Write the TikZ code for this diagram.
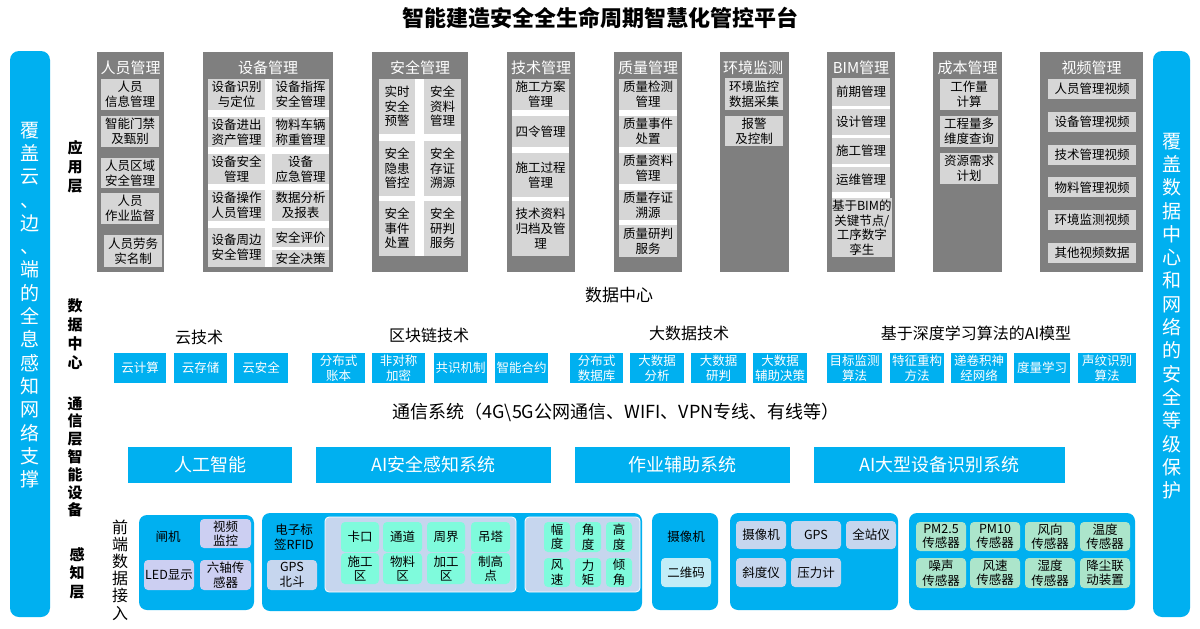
\documentclass[tikz,border=0pt]{standalone}
\usepackage{fontspec}
\setmainfont{Noto Sans CJK SC}
\definecolor{colgray}{HTML}{7F7F7F}
\definecolor{boxgray}{HTML}{D6D6D6}
\definecolor{skyblue}{HTML}{00B0F0}
\definecolor{lavender}{HTML}{CCCFF2}
\definecolor{panelblue}{HTML}{C6D6EE}
\definecolor{aqua}{HTML}{7FFBDC}
\definecolor{mint}{HTML}{ACE5CB}
\definecolor{palecyan}{HTML}{C2EDF7}

\begin{document}
\begin{tikzpicture}[x=1pt,y=-1pt,
    every node/.style={inner sep=0pt,outer sep=0pt},
    colbg/.style={fill=colgray,anchor=north west,minimum height=220},
    gapbg/.style={fill=white,anchor=north west},
    colhead/.style={text=white,font=\fontsize{15}{15}\selectfont},
    appbox/.style={fill=boxgray,anchor=north west,align=center,font=\fontsize{12.5}{15}\selectfont},
    techbox/.style={fill=skyblue,anchor=north west,align=center,text=white,minimum height=30,font=\fontsize{12.5}{15}\selectfont},
    sysbox/.style={fill=skyblue,anchor=north west,text=white,minimum height=36,font=\fontsize{18}{18}\selectfont},
    block/.style={fill=skyblue,rounded corners=8pt,anchor=north west},
    dev/.style={rounded corners=4pt,anchor=north west,align=center,font=\fontsize{12.5}{14.5}\selectfont},
    sidebar/.style={fill=skyblue,rounded corners=9pt,anchor=north west,minimum height=566},
    sidetext/.style={align=center,text=white,font=\fontsize{19}{23.3}\selectfont},
    layer/.style={align=center,font=\bfseries\fontsize{15}{19}\selectfont},
    heading/.style={font=\fontsize{16}{16}\selectfont}]

  \fill[white] (0,0) rectangle (1200,629);
  \useasboundingbox (0,0) rectangle (1200,629);

  % title
  \node[font=\bfseries\fontsize{22}{22}\selectfont] (title) at (600,18) {智能建造安全全生命周期智慧化管控平台};

  % side bars
  \node[sidebar,minimum width=40] (leftbar) at (10,51) {};
  \node[sidetext] (lefttext) at (30,305) {覆\\盖\\云\\、\\边\\、\\端\\的\\全\\息\\感\\知\\网\\络\\支\\撑};
  \node[sidebar,minimum width=37] (rightbar) at (1153,51) {};
  \node[sidetext] (righttext) at (1171.5,316) {覆\\盖\\数\\据\\中\\心\\和\\网\\络\\的\\安\\全\\等\\级\\保\\护};

  % layer labels
  \node[layer] (lyapp) at (75,167) {应\\用\\层};
  \node[layer] (lydata) at (75,334) {数\\据\\中\\心};
  \node[layer,font=\bfseries\fontsize{15}{17.8}\selectfont] (lycomm) at (75,457) {通\\信\\层\\智\\能\\设\\备};
  \node[layer,font=\bfseries\fontsize{15}{18.5}\selectfont] (lysense) at (77,573) {感\\知\\层};
  \node[align=center,font=\fontsize{16}{17.2}\selectfont] (frontend) at (120,570) {前\\端\\数\\据\\接\\入};

  % application layer
  \node[colbg,minimum width=67] (c1) at (97,52) {};
  \node[colhead] (h1) at (130.5,68) {人员管理};
  \node[appbox,minimum width=58,minimum height=31] (c1a) at (101,79) {人员\\信息管理};
  \node[appbox,minimum width=58,minimum height=31] (c1b) at (101,116) {智能门禁\\及甄别};
  \node[appbox,minimum width=58,minimum height=30] (c1c) at (101,158) {人员区域\\安全管理};
  \node[appbox,minimum width=58,minimum height=31] (c1d) at (101,193) {人员\\作业监督};
  \node[appbox,minimum width=58,minimum height=32] (c1e) at (104,235) {人员劳务\\实名制};

  \node[colbg,minimum width=130] (c2) at (203,52) {};
  \node[colhead] (h2) at (268,68) {设备管理};
  \node[gapbg,minimum width=121,minimum height=188] (g2) at (208,79) {};
  \node[appbox,minimum width=57,minimum height=31] (c2a) at (208,79) {设备识别\\与定位};
  \node[appbox,minimum width=57,minimum height=31] (c2b) at (272,79) {设备指挥\\安全管理};
  \node[appbox,minimum width=57,minimum height=30] (c2c) at (208,117) {设备进出\\资产管理};
  \node[appbox,minimum width=57,minimum height=30] (c2d) at (272,117) {物料车辆\\称重管理};
  \node[appbox,minimum width=57,minimum height=30] (c2e) at (208,154) {设备安全\\管理};
  \node[appbox,minimum width=57,minimum height=30] (c2f) at (272,154) {设备\\应急管理};
  \node[appbox,minimum width=57,minimum height=31] (c2g) at (208,190) {设备操作\\人员管理};
  \node[appbox,minimum width=57,minimum height=31] (c2h) at (272,190) {数据分析\\及报表};
  \node[appbox,minimum width=57,minimum height=39] (c2i) at (208,228) {设备周边\\安全管理};
  \node[appbox,minimum width=57,minimum height=19] (c2j) at (272,228) {安全评价};
  \node[appbox,minimum width=57,minimum height=17] (c2k) at (272,250) {安全决策};

  \node[colbg,minimum width=96] (c3) at (372,52) {};
  \node[colhead] (h3) at (420,68) {安全管理};
  \node[gapbg,minimum width=82,minimum height=177] (g3) at (379,79) {};
  \node[appbox,font=\fontsize{12.5}{14.5}\selectfont,minimum width=36,minimum height=55] (c3a) at (379,79) {实时\\安全\\预警};
  \node[appbox,font=\fontsize{12.5}{14.5}\selectfont,minimum width=37,minimum height=55] (c3b) at (424,79) {安全\\资料\\管理};
  \node[appbox,font=\fontsize{12.5}{14.5}\selectfont,minimum width=36,minimum height=55] (c3c) at (379,141) {安全\\隐患\\管控};
  \node[appbox,font=\fontsize{12.5}{14.5}\selectfont,minimum width=37,minimum height=55] (c3d) at (424,141) {安全\\存证\\溯源};
  \node[appbox,font=\fontsize{12.5}{14.5}\selectfont,minimum width=36,minimum height=55] (c3e) at (379,201) {安全\\事件\\处置};
  \node[appbox,font=\fontsize{12.5}{14.5}\selectfont,minimum width=37,minimum height=55] (c3f) at (424,201) {安全\\研判\\服务};

  \node[colbg,minimum width=68] (c4) at (507,52) {};
  \node[colhead] (h4) at (541,68) {技术管理};
  \node[gapbg,minimum width=57,minimum height=177] (g4) at (512,79) {};
  \node[appbox,minimum width=57,minimum height=31] (c4a) at (512,79) {施工方案\\管理};
  \node[appbox,minimum width=57,minimum height=31] (c4b) at (512,116) {四令管理};
  \node[appbox,minimum width=57,minimum height=44] (c4c) at (512,153) {施工过程\\管理};
  \node[appbox,minimum width=57,minimum height=55] (c4d) at (512,201) {技术资料\\归档及管\\理};

  \node[colbg,minimum width=68] (c5) at (614,52) {};
  \node[colhead] (h5) at (648,68) {质量管理};
  \node[gapbg,minimum width=58,minimum height=178] (g5) at (619,79) {};
  \node[appbox,minimum width=58,minimum height=31] (c5a) at (619,79) {质量检测\\管理};
  \node[appbox,minimum width=58,minimum height=31] (c5b) at (619,116) {质量事件\\处置};
  \node[appbox,minimum width=58,minimum height=31] (c5c) at (619,153) {质量资料\\管理};
  \node[appbox,minimum width=58,minimum height=30] (c5d) at (619,190) {质量存证\\溯源};
  \node[appbox,minimum width=58,minimum height=32] (c5e) at (619,225) {质量研判\\服务};

  \node[colbg,minimum width=69] (c6) at (720,52) {};
  \node[colhead,anchor=west] (h6) at (723,68) {环境监测};
  \node[appbox,minimum width=58,minimum height=32] (c6a) at (725,78) {环境监控\\数据采集};
  \node[appbox,minimum width=58,minimum height=30] (c6b) at (725,116) {报警\\及控制};

  \node[colbg,minimum width=68] (c7) at (827,52) {};
  \node[colhead] (h7) at (861,68) {BIM管理};
  \node[gapbg,minimum width=58,minimum height=179] (g7) at (832,78) {};
  \node[appbox,minimum width=58,minimum height=28] (c7a) at (832,78) {前期管理};
  \node[appbox,minimum width=58,minimum height=26] (c7b) at (832,109) {设计管理};
  \node[appbox,minimum width=58,minimum height=26] (c7c) at (832,138) {施工管理};
  \node[appbox,minimum width=58,minimum height=25] (c7d) at (832,167) {运维管理};
  \node[appbox,font=\fontsize{12.5}{14.5}\selectfont,minimum width=58,minimum height=59] (c7e) at (832,198) {基于BIM的\\关键节点/\\工序数字\\孪生};

  \node[colbg,minimum width=69] (c8) at (933,52) {};
  \node[colhead] (h8) at (967.5,68) {成本管理};
  \node[appbox,minimum width=58,minimum height=31] (c8a) at (940,79) {工作量\\计算};
  \node[appbox,minimum width=58,minimum height=31] (c8b) at (940,116) {工程量多\\维度查询};
  \node[appbox,minimum width=58,minimum height=31] (c8c) at (940,153) {资源需求\\计划};

  \node[colbg,minimum width=103] (c9) at (1040,52) {};
  \node[colhead] (h9) at (1091.5,68) {视频管理};
  \foreach \t [count=\i] in {人员管理视频,设备管理视频,技术管理视频,物料管理视频,环境监测视频,其他视频数据}
    \node[appbox,minimum width=88,minimum height=20] (c9\i) at (1048,{79+(\i-1)*32.8}) {\t};

  % data center
  \node[font=\fontsize{17}{17}\selectfont] (dc) at (619,295) {数据中心};
  \node[heading] (cloud) at (199,337) {云技术};
  \node[heading] (chain) at (429,335) {区块链技术};
  \node[heading] (bigdata) at (689,333) {大数据技术};
  \node[heading] (aimodel) at (976,333) {基于深度学习算法的AI模型};

  \node[techbox,minimum width=52] (t1) at (114,353) {云计算};
  \node[techbox,minimum width=53] (t2) at (174,353) {云存储};
  \node[techbox,minimum width=54] (t3) at (234,353) {云安全};
  \node[techbox,minimum width=53] (t4) at (312,353) {分布式\\账本};
  \node[techbox,minimum width=53] (t5) at (372,353) {非对称\\加密};
  \node[techbox,minimum width=53] (t6) at (434,353) {共识机制};
  \node[techbox,minimum width=53] (t7) at (495,353) {智能合约};
  \node[techbox,minimum width=53] (t8) at (570,353) {分布式\\数据库};
  \node[techbox,minimum width=54] (t9) at (630,353) {大数据\\分析};
  \node[techbox,minimum width=55] (t10) at (691,353) {大数据\\研判};
  \node[techbox,minimum width=54] (t11) at (753,353) {大数据\\辅助决策};
  \node[techbox,minimum width=55] (t12) at (827,353) {目标监测\\算法};
  \node[techbox,minimum width=54] (t13) at (890,353) {特征重构\\方法};
  \node[techbox,minimum width=56] (t14) at (951,353) {递卷积神\\经网络};
  \node[techbox,minimum width=56] (t15) at (1014,353) {度量学习};
  \node[techbox,minimum width=58] (t16) at (1078,353) {声纹识别\\算法};

  % communication
  \node[font=\fontsize{18}{18}\selectfont] (comm) at (616,412) {通信系统（4G\textbackslash 5G公网通信、WIFI、VPN专线、有线等）};
  \node[sysbox,minimum width=164] (s1) at (128,447) {人工智能};
  \node[sysbox,minimum width=235] (s2) at (316,447) {AI安全感知系统};
  \node[sysbox,minimum width=215] (s3) at (575,447) {作业辅助系统};
  \node[sysbox,minimum width=251] (s4) at (814,447) {AI大型设备识别系统};

  % sensing layer
  \node[block,minimum width=115,minimum height=95] (b1) at (139,515) {};
  \node[font=\fontsize{12.5}{14.5}\selectfont] (gate) at (168,537) {闸机};
  \node[dev,fill=lavender,minimum width=51,minimum height=29] (b1a) at (200,519) {视频\\监控};
  \node[dev,fill=lavender,minimum width=50,minimum height=30] (b1b) at (144,560) {LED显示};
  \node[dev,fill=lavender,minimum width=51,minimum height=30] (b1c) at (200,560) {六轴传\\感器};

  \node[block,minimum width=380,minimum height=98] (b2) at (262,513) {};
  \node[align=center,font=\fontsize{12.5}{14.5}\selectfont] (rfid) at (294,537) {电子标\\签RFID};
  \node[dev,fill=panelblue,minimum width=50,minimum height=30] (gps2) at (267,560) {GPS\\北斗};
  \node[dev,fill=panelblue,draw=white,line width=0.8pt,minimum width=191,minimum height=75] (pa) at (325,517) {};
  \node[dev,fill=aqua,minimum width=38,minimum height=30] (pa1) at (341,522) {卡口};
  \node[dev,fill=aqua,minimum width=39,minimum height=30] (pa2) at (383,522) {通道};
  \node[dev,fill=aqua,minimum width=38,minimum height=30] (pa3) at (427,522) {周界};
  \node[dev,fill=aqua,minimum width=39,minimum height=30] (pa4) at (471,522) {吊塔};
  \node[dev,fill=aqua,minimum width=38,minimum height=31] (pa5) at (341,553) {施工\\区};
  \node[dev,fill=aqua,minimum width=39,minimum height=31] (pa6) at (383,553) {物料\\区};
  \node[dev,fill=aqua,minimum width=38,minimum height=31] (pa7) at (427,553) {加工\\区};
  \node[dev,fill=aqua,minimum width=39,minimum height=31] (pa8) at (471,553) {制高\\点};
  \node[dev,fill=panelblue,draw=white,line width=0.8pt,minimum width=115,minimum height=75] (pb) at (525,517) {};
  \node[dev,fill=aqua,minimum width=26,minimum height=30] (pb1) at (544,522) {幅\\度};
  \node[dev,fill=aqua,minimum width=26,minimum height=30] (pb2) at (575,522) {角\\度};
  \node[dev,fill=aqua,minimum width=26,minimum height=30] (pb3) at (606,522) {高\\度};
  \node[dev,fill=aqua,minimum width=26,minimum height=29] (pb4) at (544,558) {风\\速};
  \node[dev,fill=aqua,minimum width=26,minimum height=29] (pb5) at (575,558) {力\\矩};
  \node[dev,fill=aqua,minimum width=26,minimum height=29] (pb6) at (606,558) {倾\\角};

  \node[block,minimum width=66,minimum height=97] (b3) at (652,513) {};
  \node[font=\fontsize{12.5}{14.5}\selectfont] (cam) at (686,537) {摄像机};
  \node[dev,fill=palecyan,minimum width=50,minimum height=29] (qr) at (661,558) {二维码};

  \node[block,minimum width=168,minimum height=97] (b4) at (730,513) {};
  \node[dev,fill=panelblue,minimum width=50,minimum height=28] (b4a) at (736,521) {摄像机};
  \node[dev,fill=panelblue,minimum width=50,minimum height=28] (b4b) at (791,521) {GPS};
  \node[dev,fill=panelblue,minimum width=50,minimum height=28] (b4c) at (846,521) {全站仪};
  \node[dev,fill=panelblue,minimum width=50,minimum height=29] (b4d) at (736,558) {斜度仪};
  \node[dev,fill=panelblue,minimum width=50,minimum height=29] (b4e) at (791,558) {压力计};

  \node[block,minimum width=226,minimum height=97] (b5) at (909,513) {};
  \node[dev,fill=mint,minimum width=50,minimum height=29] (b5a) at (916,522) {PM2.5\\传感器};
  \node[dev,fill=mint,minimum width=50,minimum height=29] (b5b) at (970,522) {PM10\\传感器};
  \node[dev,fill=mint,minimum width=50,minimum height=29] (b5c) at (1025,522) {风向\\传感器};
  \node[dev,fill=mint,minimum width=50,minimum height=29] (b5d) at (1080,522) {温度\\传感器};
  \node[dev,fill=mint,minimum width=50,minimum height=30] (b5e) at (916,558) {噪声\\传感器};
  \node[dev,fill=mint,minimum width=50,minimum height=30] (b5f) at (970,558) {风速\\传感器};
  \node[dev,fill=mint,minimum width=50,minimum height=30] (b5g) at (1025,558) {湿度\\传感器};
  \node[dev,fill=mint,minimum width=50,minimum height=30] (b5h) at (1080,558) {降尘联\\动装置};

\end{tikzpicture}
\end{document}
